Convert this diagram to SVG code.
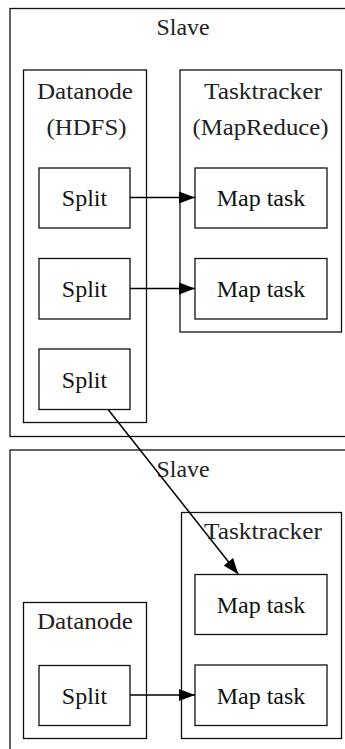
<svg xmlns="http://www.w3.org/2000/svg" width="345" height="749" viewBox="0 0 345 749">
  <style>
    rect { fill: none; stroke: #111; stroke-width: 1.3; }
    text { font-family: "Liberation Serif", "Times New Roman", serif; font-size: 24px; text-anchor: middle; fill: #111; }
    .lbl { fill: #222; }
    .edge { stroke: #000; stroke-width: 1.5; fill: none; marker-end: url(#arrow); }
  </style>
  <defs>
    <marker id="arrow" markerUnits="userSpaceOnUse" markerWidth="17" markerHeight="13" refX="16" refY="6.5" orient="auto">
      <path d="M0,0.5 L16,6.5 L0,12.5 z" fill="#000"/>
    </marker>
  </defs>

  <!-- first machine -->
  <g id="slave1">
    <rect x="10" y="8.5" width="400" height="428"/>
    <text class="lbl" x="183" y="35" textLength="53" lengthAdjust="spacingAndGlyphs">Slave</text>
  </g>
  <g id="datanode1">
    <rect x="23.5" y="70" width="123" height="352.5"/>
    <text class="lbl" x="85" y="99" textLength="96" lengthAdjust="spacingAndGlyphs">Datanode</text>
    <text class="lbl" x="86.5" y="135" textLength="80" lengthAdjust="spacingAndGlyphs">(HDFS)</text>
  </g>
  <g id="tasktracker1">
    <rect x="180" y="70" width="161.5" height="262"/>
    <text class="lbl" x="263" y="99" textLength="118" lengthAdjust="spacingAndGlyphs">Tasktracker</text>
    <text class="lbl" x="260.5" y="135" textLength="136" lengthAdjust="spacingAndGlyphs">(MapReduce)</text>
  </g>
  <g id="split1">
    <rect x="39" y="168" width="91" height="60"/>
    <text x="84.5" y="206">Split</text>
  </g>
  <g id="split2">
    <rect x="39" y="258.5" width="91" height="60.5"/>
    <text x="84.5" y="297">Split</text>
  </g>
  <g id="split3">
    <rect x="39" y="349" width="91" height="60.5"/>
    <text x="84.5" y="387.5">Split</text>
  </g>
  <g id="map1">
    <rect x="195" y="168" width="132" height="60"/>
    <text x="261" y="206">Map task</text>
  </g>
  <g id="map2">
    <rect x="195" y="258.5" width="132" height="60.5"/>
    <text x="261" y="297">Map task</text>
  </g>

  <!-- second machine -->
  <g id="slave2">
    <rect x="10" y="450" width="400" height="320"/>
    <text class="lbl" x="183" y="477" textLength="53" lengthAdjust="spacingAndGlyphs">Slave</text>
  </g>
  <g id="tasktracker2">
    <rect x="181.5" y="512.5" width="160" height="226"/>
    <text class="lbl" x="263" y="539" textLength="118" lengthAdjust="spacingAndGlyphs">Tasktracker</text>
  </g>
  <g id="datanode2">
    <rect x="23.5" y="602.5" width="123" height="136"/>
    <text class="lbl" x="85" y="629" textLength="96" lengthAdjust="spacingAndGlyphs">Datanode</text>
  </g>
  <g id="map3">
    <rect x="195" y="574.5" width="132" height="60"/>
    <text x="261" y="612.5">Map task</text>
  </g>
  <g id="map4">
    <rect x="195" y="665" width="132" height="60.5"/>
    <text x="261" y="703.5">Map task</text>
  </g>
  <g id="split4">
    <rect x="39" y="665.5" width="91" height="60"/>
    <text x="84.5" y="703.5">Split</text>
  </g>

  <!-- connectors -->
  <g id="edges">
    <line class="edge" x1="130" y1="197.5" x2="195" y2="197.5"/>
    <line class="edge" x1="130" y1="288.5" x2="195" y2="288.5"/>
    <line class="edge" x1="108.3" y1="409.7" x2="238.3" y2="574.3"/>
    <line class="edge" x1="130" y1="695" x2="195" y2="695"/>
  </g>
</svg>
